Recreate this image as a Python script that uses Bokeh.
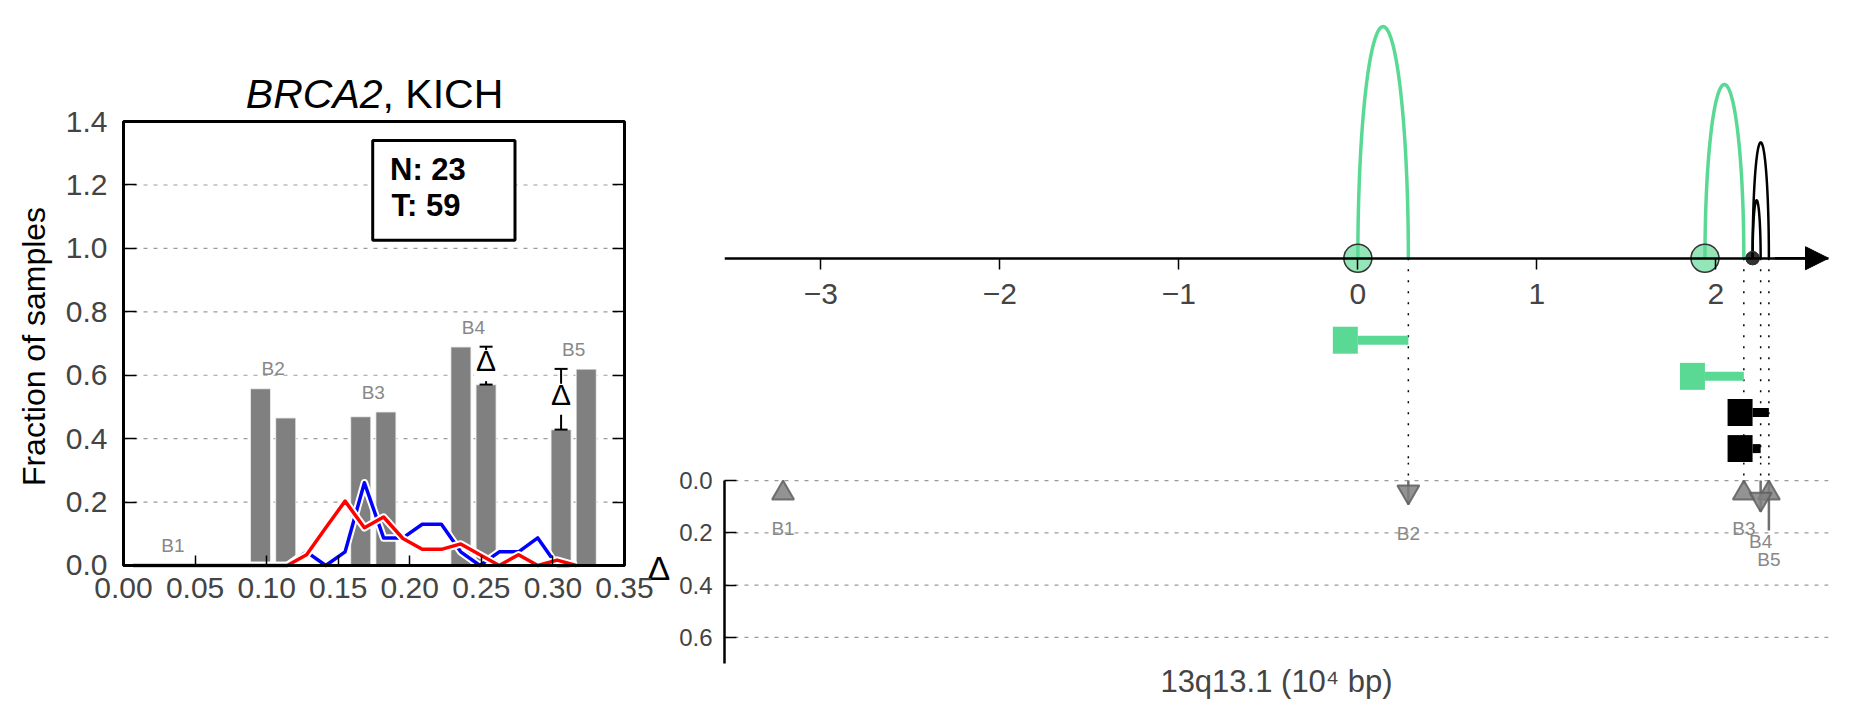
import math
from bokeh.plotting import figure
from bokeh.layouts import row, column
from bokeh.models import (Range1d, LinearAxis, FixedTicker, PrintfTickFormatter,
                          CustomJSTickFormatter, Arrow, NormalHead)
from bokeh.core.properties import value
from bokeh.embed import file_html
from bokeh.resources import INLINE

FONT = "Liberation Sans"

# ---------------- data ----------------
bp_names = ["B1", "B2", "B3", "B4", "B5"]
group_x = [0.0345, 0.1045, 0.1745, 0.2445, 0.3145]
bar_first = [0.0, 0.558, 0.4695, 0.690, 0.4285]
bar_second = [0.0, 0.466, 0.485, 0.5705, 0.620]
delta_marked = [False, False, False, True, True]

bin_x = [0.0067, 0.0202, 0.0337, 0.0471, 0.0606, 0.0740, 0.0875, 0.1010,
         0.1144, 0.1279, 0.1413, 0.1548, 0.1683, 0.1817, 0.1952, 0.2087,
         0.2221, 0.2356, 0.2490, 0.2625, 0.2760, 0.2894, 0.3029, 0.3163]
frac_normal = [0, 0, 0, 0, 0, 0, 0, 0, 0,
               0.043, 0.0, 0.043, 0.261, 0.087, 0.087, 0.130, 0.130,
               0.043, 0.0, 0.043, 0.043, 0.087, 0.0, 0.0]
frac_tumor = [0, 0, 0, 0, 0, 0, 0, 0, 0,
              0.034, 0.119, 0.203, 0.119, 0.153, 0.085, 0.051, 0.051,
              0.068, 0.034, 0.0, 0.034, 0.0, 0.017, 0.0]
n_normal = 23
n_tumor = 59
gene = "BRCA2"
cohort = "KICH"
x_ticks_left = [0.00, 0.05, 0.10, 0.15, 0.20, 0.25, 0.30, 0.35]
y_ticks_left = [0.0, 0.2, 0.4, 0.6, 0.8, 1.0, 1.2, 1.4]

bp_pos = [-3.211, 0.282, 2.156, 2.250, 2.296]          # 10^4 bp
arc_start = [0.0, 1.939, 2.205, 2.205]
arc_end = [0.282, 2.156, 2.296, 2.250]
arc_height = [4, 3, 2, 1]
arc_color = ["#5ad994", "#5ad994", "#000000", "#000000"]
x_ticks_right = [-3, -2, -1, 0, 1, 2]
y_ticks_delta = [0.0, 0.2, 0.4, 0.6]

GRID_COLOR = "#9a9a9a"
GRID_DASH = "4 6"
XL0, XL1, YL0, YL1 = 0.0, 0.35, 0.0, 1.4

# ---------------- left panel ----------------
# the frame covers the whole left canvas; the data box (0..0.35, 0..1.4) is drawn inside it
p1 = figure(title=None, frame_width=676, frame_height=710,
            x_range=Range1d(-0.08593, 0.38633), y_range=Range1d(-0.4573, 1.7818),
            x_axis_location=None, y_axis_location=None,
            output_backend="svg", toolbar_location=None,
            min_border_left=0, min_border_right=0, min_border_top=0, min_border_bottom=0)
p1.outline_line_color = None
p1.grid.visible = False
ytk = FixedTicker(ticks=y_ticks_left)

ya = LinearAxis(fixed_location=XL0, bounds=(YL0, YL1), ticker=ytk,
                formatter=PrintfTickFormatter(format="%.1f"), axis_line_color=None,
                major_tick_in=13, major_tick_out=0, major_tick_line_width=1.5,
                minor_tick_line_color=None, major_label_text_font=FONT,
                major_label_text_font_size="30px", major_label_standoff=16)
p1.add_layout(ya, "left")
xa = LinearAxis(fixed_location=YL0, bounds=(XL0, XL1), ticker=FixedTicker(ticks=x_ticks_left),
                formatter=PrintfTickFormatter(format="%.2f"), axis_line_color=None,
                major_tick_in=10, major_tick_out=0, major_tick_line_width=1.5,
                minor_tick_line_color=None, major_label_text_font=FONT,
                major_label_text_font_size="30px", major_label_standoff=13)
p1.add_layout(xa, "below")
ra = LinearAxis(fixed_location=XL1, bounds=(YL0, YL1), ticker=ytk,
                formatter=CustomJSTickFormatter(code="return ''"),
                axis_line_color=None, major_tick_in=12, major_tick_out=0,
                major_tick_line_width=1.5, minor_tick_line_color=None)
p1.add_layout(ra, "right")

# horizontal grid lines inside the data box
p1.segment(x0=[XL0] * len(y_ticks_left), y0=y_ticks_left, x1=[XL1] * len(y_ticks_left),
           y1=y_ticks_left, line_color=GRID_COLOR, line_dash=GRID_DASH, line_width=1.2)

bar_w = 0.0143
half_gap = 0.0088
x_first = [c - half_gap for c in group_x]
x_second = [c + half_gap for c in group_x]
for xs, hs in ((x_first, bar_first), (x_second, bar_second)):
    p1.vbar(x=xs, top=hs, bottom=0, width=bar_w, fill_color="#808080",
            line_color="white", line_width=1.5, line_alpha=0.7)

for ys, col in ((frac_normal, "#0000ff"), (frac_tumor, "#ff0000")):
    p1.line(bin_x, ys, line_color="white", line_width=7.5, line_join="round")
    p1.line(bin_x, ys, line_color=col, line_width=3.5, line_join="round")

# delta markers with error bars
dx, dlo, dhi = [], [], []
for i, flag in enumerate(delta_marked):
    if flag:
        a, b = bar_first[i], bar_second[i]
        dx.append(x_first[i] if a < b else x_second[i])
        dlo.append(min(a, b))
        dhi.append(max(a, b))
dmid = [(l + h) / 2 for l, h in zip(dlo, dhi)]
p1.segment(x0=dx, y0=dlo, x1=dx, y1=dhi, line_color="black", line_width=2)
p1.rect(x=dx, y=dmid, width=24, height=31, width_units="screen", height_units="screen",
        fill_color="white", line_color=None)
p1.scatter(x=dx + dx, y=dlo + dhi, marker="dash", size=13, line_color="black", line_width=2)
p1.text(x=dx, y=dmid, text=["Δ"] * len(dx), text_align="center", text_baseline="middle",
        text_font=value(FONT), text_font_size="30px", text_color="black", y_offset=-5)

# bin labels
lab_y = [max(a, b) + 0.062 for a, b in zip(bar_first, bar_second)]
p1.text(x=group_x, y=lab_y, text=bp_names, text_align="center", text_baseline="middle",
        text_font=value(FONT), text_font_size="19px", text_color="#888888")

# data box frame
p1.quad(left=[XL0], right=[XL1], bottom=[YL0], top=[YL1], fill_color=None,
        line_color="black", line_width=3)

# N / T box
p1.quad(left=[0.1741], right=[0.2735], bottom=[1.026], top=[1.340],
        fill_color="white", line_color="black", line_width=3)
p1.text(x=[0.1862, 0.1872], y=[1.2488, 1.1368],
        text=[f"N: {n_normal}", f"T: {n_tumor}"], text_align="left",
        text_baseline="middle", text_font=value(FONT), text_font_size="31px",
        text_font_style="bold", text_color="black")

# title (gene in italics)
p1.text(x=[0.181], y=[1.4885], text=[gene], text_align="right", text_baseline="middle",
        text_font=value(FONT), text_font_size="41px", text_font_style="italic",
        text_color="black")
p1.text(x=[0.181], y=[1.4885], text=[f", {cohort}"], text_align="left",
        text_baseline="middle", text_font=value(FONT), text_font_size="41px",
        text_color="black")
# y axis label
p1.text(x=[-0.0622], y=[0.6906], text=["Fraction of samples"], angle=math.pi / 2,
        text_align="center", text_baseline="middle", text_font=value(FONT),
        text_font_size="32px", text_color="black")
# label of the delta panel
p1.text(x=[0.374], y=[-0.008], text=["Δ"], text_align="center", text_baseline="middle",
        text_font=value(FONT), text_font_size="34px", text_color="black")

# ---------------- right top panel ----------------
XR0, XR1 = -3.538, 2.629
xr = Range1d(XR0, XR1)
YT0, YT1 = -3.528, 4.451
p2 = figure(title=None, frame_width=1104, frame_height=462, x_range=xr,
            y_range=Range1d(YT0, YT1), x_axis_location=None, y_axis_location=None,
            output_backend="svg", toolbar_location=None,
            min_border_left=48, min_border_right=20, min_border_top=0, min_border_bottom=0)
p2.outline_line_color = None
p2.grid.visible = False

ax2 = LinearAxis(fixed_location=0, ticker=FixedTicker(ticks=x_ticks_right),
                 formatter=CustomJSTickFormatter(
                     code="return tick < 0 ? '\\u2212' + Math.abs(tick) : String(tick)"),
                 axis_line_color="black", axis_line_width=2.5,
                 major_tick_in=0, major_tick_out=11, major_tick_line_width=1.5,
                 minor_tick_line_color=None, major_label_text_font=FONT,
                 major_label_text_font_size="30px", major_label_standoff=15)
p2.add_layout(ax2, "below")
p2.add_layout(Arrow(end=NormalHead(size=23, fill_color="black", line_color="black"),
                    x_start=XR1 - 0.3, y_start=0, x_end=XR1, y_end=0,
                    line_color="black", line_width=2.5))

# dotted guides from arc ends down to the delta panel
p2.segment(x0=arc_end, y0=[0] * len(arc_end), x1=arc_end, y1=[YT0] * len(arc_end),
           line_color="black", line_width=1.5, line_dash="2 9")

# arcs
for s, e, h, c in zip(arc_start, arc_end, arc_height, arc_color):
    ts = [math.pi * k / 160 for k in range(161)]
    xs = [s + (e - s) * (1 - math.cos(t)) / 2 for t in ts]
    ys = [h * math.sin(t) for t in ts]
    p2.line(xs, ys, line_color=c, line_width=3.5 if c != "#000000" else 2.5)

# T-shaped span markers
for i, (s, e, c) in enumerate(zip(arc_start, arc_end, arc_color)):
    yrow = -(1.416 + 0.624 * i)
    p2.rect(x=[s - 0.07], y=[yrow], width=25, height=27, width_units="screen",
            height_units="screen", fill_color=c, line_color=None)
    p2.rect(x=[(s + e) / 2], y=[yrow], width=e - s, height=9, height_units="screen",
            fill_color=c, line_color=None)

# start circles
for s, c in zip(arc_start, arc_color):
    if c == "#000000":
        p2.scatter(x=[s], y=[0], size=13, fill_color="#000000", fill_alpha=0.55,
                   line_color="#333333", line_width=1.2)
    else:
        p2.scatter(x=[s], y=[0], size=28, fill_color=c, fill_alpha=0.65,
                   line_color="#333333", line_width=1.5)

# ---------------- right bottom (delta) panel ----------------
YD_TOP = -0.069
p3 = figure(title=None, frame_width=1104, frame_height=201, x_range=xr,
            y_range=Range1d(0.7, YD_TOP), x_axis_location="below", y_axis_location="left",
            output_backend="svg", toolbar_location=None,
            min_border_left=48, min_border_right=20, min_border_top=0, min_border_bottom=47)
p3.outline_line_color = None
p3.grid.visible = False
dtk = FixedTicker(ticks=y_ticks_delta)
ya3 = p3.yaxis[0]
ya3.ticker = dtk
ya3.bounds = (0, 0.7)
ya3.formatter = PrintfTickFormatter(format="%.1f")
ya3.axis_line_color = "black"
ya3.axis_line_width = 2.5
ya3.major_tick_in = 12
ya3.major_tick_out = 0
ya3.major_tick_line_width = 1.5
ya3.minor_tick_line_color = None
ya3.major_label_text_font = FONT
ya3.major_label_text_font_size = "24px"
ya3.major_label_standoff = 12

xa3 = p3.xaxis[0]
xa3.ticker = FixedTicker(ticks=[])
xa3.axis_line_color = None
xa3.major_tick_line_color = None
xa3.minor_tick_line_color = None
xa3.axis_label = "13q13.1 (10\u2074 bp)"
xa3.axis_label_text_font = FONT
xa3.axis_label_text_font_size = "31px"
xa3.axis_label_text_font_style = "normal"
xa3.axis_label_standoff = 0

p3.segment(x0=[XR0] * len(y_ticks_delta), y0=y_ticks_delta, x1=[XR1] * len(y_ticks_delta),
           y1=y_ticks_delta, line_color=GRID_COLOR, line_dash=GRID_DASH, line_width=1.2)
# continuation of dotted guides down to zero
p3.segment(x0=arc_end, y0=[YD_TOP] * len(arc_end), x1=arc_end, y1=[0] * len(arc_end),
           line_color="black", line_width=1.5, line_dash="2 9")

delta = [b - a for a, b in zip(bar_first, bar_second)]
absd = [abs(d) for d in delta]
p3.segment(x0=bp_pos, y0=[0] * 5, x1=bp_pos, y1=absd, line_color="#707070", line_width=2.5)
tri_off = 0.0486
up_x = [x for x, d in zip(bp_pos, delta) if d >= 0]
up_y = [tri_off for d in delta if d >= 0]
dn_x = [x for x, d in zip(bp_pos, delta) if d < 0]
dn_y = [abs(d) - tri_off for d in delta if d < 0]
for mk, xs, ys in (("triangle", up_x, up_y), ("inverted_triangle", dn_x, dn_y)):
    p3.scatter(x=xs, y=ys, marker=mk, size=22, fill_color="#808080", fill_alpha=0.85,
               line_color="#5f5f5f", line_alpha=0.85, line_width=2)
lab3_y = [max(0.073, a) + 0.112 for a in absd]
p3.text(x=bp_pos, y=lab3_y, text=bp_names, text_align="center", text_baseline="middle",
        text_font=value(FONT), text_font_size="19px", text_color="#888888")

layout = row(p1, column(p2, p3))
open("out.html", "w").write(file_html(layout, INLINE))
